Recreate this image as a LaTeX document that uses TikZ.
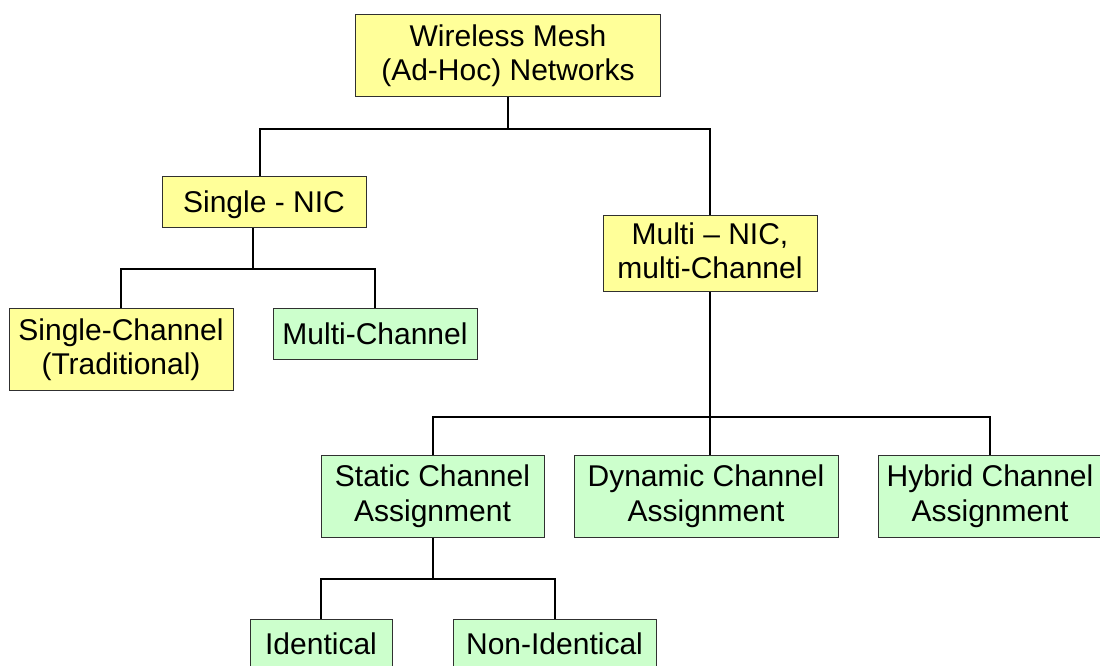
\documentclass[tikz,border=0pt]{standalone}
\usepackage{fontspec}
\setmainfont{Liberation Sans}
\definecolor{boxyellow}{HTML}{FFFF99}
\definecolor{boxgreen}{HTML}{CCFFCC}
\definecolor{boxline}{HTML}{303030}
% fixed line height and depth so every label sits at the same level in its box
\newcommand\boxstrut{\rule[-4.9pt]{0pt}{25.4pt}}
\begin{document}
\begin{tikzpicture}[x=0.75pt,y=-0.75pt,
  box/.style={draw=boxline, line width=0.75pt, inner sep=0pt, align=center,
    font=\fontsize{22.5}{26}\selectfont,
    execute at begin node=\boxstrut, execute at end node=\boxstrut},
  sz/.style 2 args={minimum width=#1*0.75pt, minimum height=#2*0.75pt},
  yel/.style={box, fill=boxyellow},
  grn/.style={box, fill=boxgreen},
  conn/.style={line width=1.5pt, black}]
\useasboundingbox (0,0) rectangle (1100,666);

% tree nodes
\node[yel, sz={305}{82}] (root)  at (508,56)      {Wireless Mesh\\(Ad-Hoc) Networks};
\node[yel, sz={204}{51}] (snic)  at (264,202.5)   {Single - NIC};
\node[yel, sz={214}{76}] (mnic)  at (710,254)     {Multi -- NIC,\\multi-Channel};
\node[yel, sz={224}{82}] (sch)   at (121,350)     {Single-Channel\\(Traditional)};
\node[grn, sz={204}{51}] (mch)   at (375,334.5)   {Multi-Channel};
\node[grn, sz={223}{81}] (stat)  at (432.5,496.5) {Static Channel\\Assignment};
\node[grn, sz={264}{81}] (dyn)   at (706,496.5)   {Dynamic Channel\\Assignment};
\node[grn, sz={224}{81}] (hyb)   at (990,496.5)   {Hybrid Channel\\Assignment};
\node[grn, sz={142}{51}] (ident) at (321,644.5)   {Identical};
\node[grn, sz={203}{51}] (nonid) at (554.5,644.5) {Non-Identical};

% bus levels
\coordinate (bus1) at (0,129);
\coordinate (bus3) at (0,417);
\coordinate (bus4) at (0,579);

% connectors
\draw[conn] (root.south) -- (root.south |- bus1);
\draw[conn] ([xshift=-3pt]snic.north) |- (bus1 -| mnic.north) -- (mnic.north);

\draw[conn] ([xshift=-8.25pt]snic.south) -- ++(0,41) coordinate (bus2);
\draw[conn] (sch.north) |- (bus2 -| mch.north) -- (mch.north);

\draw[conn] (mnic.south) -- (mnic.south |- dyn.north);
\draw[conn] (stat.north) |- (bus3 -| hyb.north) -- (hyb.north);

\draw[conn] (stat.south) -- (stat.south |- bus4);
\draw[conn] (ident.north) |- (bus4 -| nonid.north) -- (nonid.north);
\end{tikzpicture}
\end{document}
